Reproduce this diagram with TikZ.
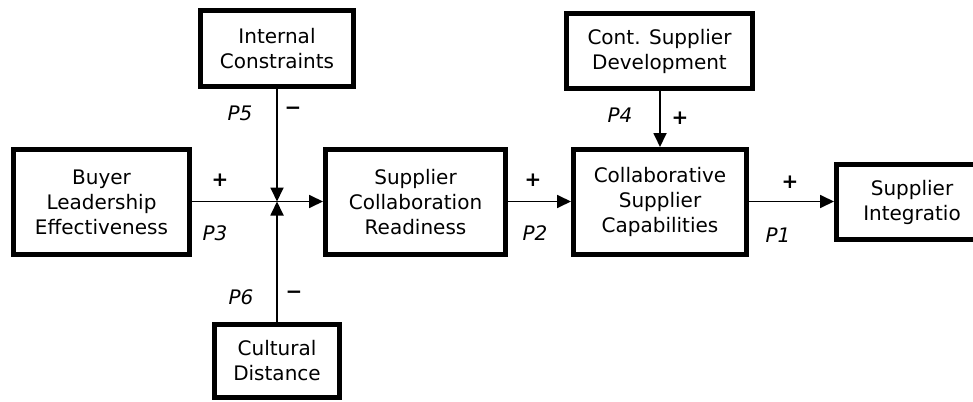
\documentclass[tikz,border=0pt]{standalone}
\usepackage{fontspec}
\setmainfont{DejaVu Sans}
\usetikzlibrary{arrows.meta}
\begin{document}
\begin{tikzpicture}[x=1pt,y=-1pt,
  construct/.style={draw,line width=5pt,inner sep=0pt,align=center,
    font=\fontsize{20}{25}\selectfont},
  link/.style={line width=1.8pt,-{Triangle[length=14pt,width=13pt]}},
  sign/.style={font=\fontsize{20}{25}\selectfont\bfseries},
  prop/.style={font=\fontsize{20}{25}\selectfont\itshape}]
  \clip (0,0) rectangle (973,401);
  % constructs
  \node[construct,minimum width=153pt,minimum height=76pt] (ic) at (277,48.5) {Internal\\Constraints};
  \node[construct,minimum width=176pt,minimum height=105pt] (ble) at (101.5,202) {Buyer\\Leadership\\Effectiveness};
  \node[construct,minimum width=180pt,minimum height=105pt] (scr) at (415.5,202) {Supplier\\Collaboration\\Readiness};
  \node[construct,minimum width=125pt,minimum height=73pt] (cd) at (277,361) {Cultural\\Distance};
  \node[construct,minimum width=186pt,minimum height=75pt] (csd) at (659.5,51) {Cont. Supplier\\Development};
  \node[construct,minimum width=173pt,minimum height=105pt] (csc) at (660,202) {Collaborative\\Supplier\\Capabilities};
  \node[construct,minimum width=151pt,minimum height=75pt] (si) at (912,202) {Supplier\\Integratio};
  % moderation point on the main path
  \coordinate (J) at (277,201.5);
  % relationships
  \draw[link] (ble.east |- J) -- (scr.west |- J);
  \draw[link] (ic.south) -- (J);
  \draw[link] (cd.north) -- (J);
  \draw[link] (scr.east |- J) -- (csc.west |- J);
  \draw[link] (csd.south -| csc) -- (csc.north);
  \draw[link] (csc.east |- J) -- (si.west |- J);
  % signs and proposition labels
  \node[sign] (s3) at (220,180) {+};
  \node[prop] (p3) at (215,233) {P3};
  \node[prop] (p5) at (240,113) {P5};
  \node[sign] (s5) at (293,111) {−};
  \node[prop] (p6) at (241,297) {P6};
  \node[sign] (s6) at (294,295) {−};
  \node[sign] (s2) at (533,180) {+};
  \node[prop] (p2) at (535,233) {P2};
  \node[prop] (p4) at (620,115) {P4};
  \node[sign] (s4) at (680,118) {+};
  \node[sign] (s1) at (790,182) {+};
  \node[prop] (p1) at (778,235) {P1};
\end{tikzpicture}
\end{document}
